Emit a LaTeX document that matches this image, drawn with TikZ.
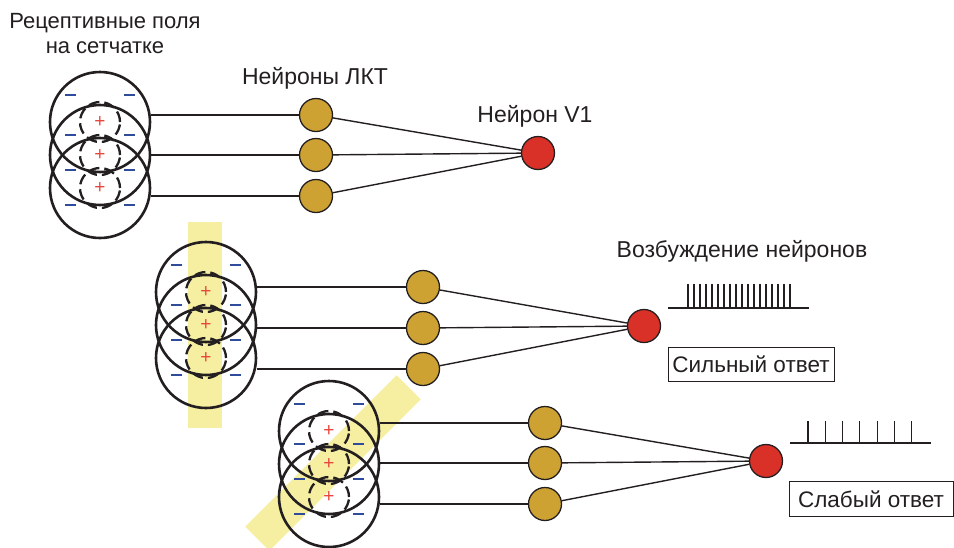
\documentclass[tikz,border=0pt]{standalone}
\usepackage{fontspec}
\setmainfont{Liberation Sans}
\usetikzlibrary{positioning}
\definecolor{barfill}{HTML}{F6EFA2}
\definecolor{lgnfill}{HTML}{CDA233}
\definecolor{vonefill}{HTML}{D93128}
\definecolor{offblue}{HTML}{2F4C9C}
\definecolor{onred}{HTML}{E8463C}
\definecolor{ink}{HTML}{231F20}

\begin{document}
\begin{tikzpicture}[
  x=1pt, y=-1pt,
  every node/.style={font=\fontsize{23}{27}\selectfont, text=ink},
  field/.style={draw=ink, circle, line width=2.6pt, minimum size=100pt, inner sep=0pt},
  centre/.style={draw=ink, circle, line width=2.3pt, dash pattern=on 11pt off 5pt, minimum size=40pt, inner sep=0pt},
  plus/.style={text=onred, font=\fontsize{19}{19}\selectfont, inner sep=0pt},
  minus/.style={draw=offblue, line width=1.3pt},
  lgn/.style={draw=ink, circle, fill=lgnfill, line width=1.3pt, minimum size=33pt, inner sep=0pt},
  vone/.style={draw=ink, circle, fill=vonefill, line width=1.3pt, minimum size=33pt, inner sep=0pt},
  wire/.style={draw=ink, line width=1.4pt},
  answer/.style={draw=ink, line width=0.9pt, inner sep=3pt, font=\fontsize{22.5}{26}\selectfont},
]
  \useasboundingbox (0,0) rectangle (954,547);

  % Stimulus bars
  \fill[barfill] (188,222) rectangle (222,428);
  \fill[barfill, rotate around={45:(333,463)}] (226,446) rectangle (440,480);

  % Labels
  \node[align=center, font=\fontsize{22}{25}\selectfont] (title) at (105,34) {Рецептивные поля\\на сетчатке};
  \node (lgnlabel) at (315,78) {Нейроны ЛКТ};
  \node (vonelabel) at (535,116) {Нейрон V1};
  \node (firing) at (742,251) {Возбуждение нейронов};

  % Receptive fields: three rows of three
  \foreach \g/\cx/\cy in {1/100/122, 2/206/292, 3/329/431} {
    \foreach \i/\dy in {a/0, b/33, c/66} {
      \node[field] (rf\g\i) at (\cx,\cy+\dy) {};
      \node[centre] (cf\g\i) at (\cx,\cy+\dy) {};
      \node[plus] at (\cx,\cy+\dy) {+};
    }
    \foreach \dy in {-27, 13, 48, 83} {
      \draw[minus] (\cx-35,\cy+\dy) -- (\cx-24,\cy+\dy);
      \draw[minus] (\cx+24,\cy+\dy) -- (\cx+35,\cy+\dy);
    }
  }

  % LGN cells and V1 cells
  \node[lgn] (n1a) at (316,115) {};
  \node[lgn] (n1b) at (316,155) {};
  \node[lgn] (n1c) at (316,196) {};
  \node[vone] (v1) at (538,153) {};

  \node[lgn] (n2a) at (423,287) {};
  \node[lgn] (n2b) at (423,328) {};
  \node[lgn] (n2c) at (423,369) {};
  \node[vone] (v2) at (644,326) {};

  \node[lgn] (n3a) at (545,423) {};
  \node[lgn] (n3b) at (545,463) {};
  \node[lgn] (n3c) at (545,504) {};
  \node[vone] (v3) at (766,461) {};

  % Wiring
  \foreach \g in {1,2,3} {
    \foreach \i in {a,b,c} {
      \draw[wire] (n\g\i -| rf\g\i.east) -- (n\g\i);
      \draw[wire] (n\g\i) -- (v\g);
    }
  }

  % Spike trains
  \coordinate (s2) at (668,308);
  \draw[wire] (s2) -- ++(141,0);
  \foreach \k in {0,...,17}
    \draw[ink, line width=1.1pt] ([xshift=688+6*\k-668]s2) -- ++(0,-24);
  \coordinate (s3) at (790,443);
  \draw[wire] (s3) -- ++(141,0);
  \foreach \k in {0,...,6}
    \draw[ink, line width=1.1pt] ([xshift=808+17.3*\k-790]s3) -- ++(0,-22);

  % Response boxes
  \node[answer, minimum width=166pt, minimum height=34pt] (strong) at (751,364) {Сильный ответ};
  \node[answer, minimum width=164pt, minimum height=35pt] (weak) at (871,499) {Слабый ответ};
\end{tikzpicture}
\end{document}
